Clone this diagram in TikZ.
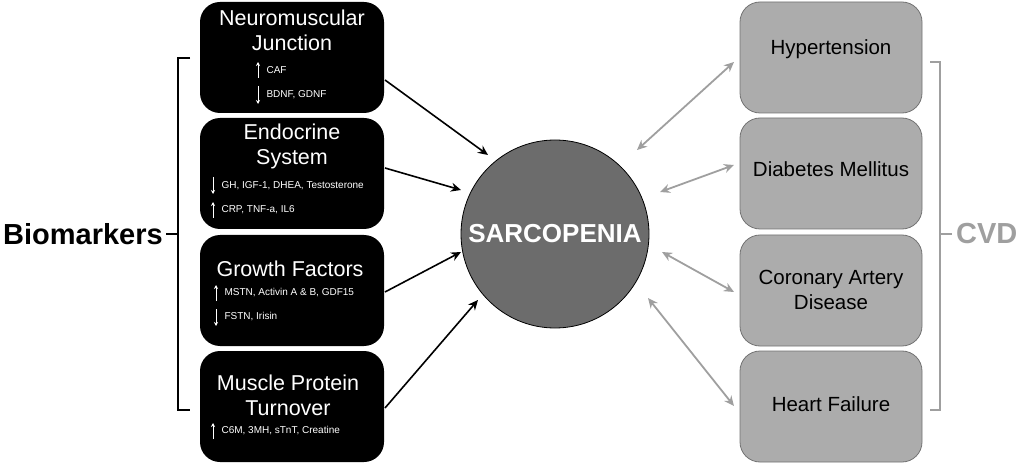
\documentclass[tikz,border=0pt]{standalone}
\usepackage{fontspec}
\setmainfont{Liberation Sans}
\usetikzlibrary{arrows.meta}
\begin{document}
\begin{tikzpicture}[x=1pt,y=-1pt,
  lbox/.style={fill=black,rounded corners=20pt},
  rbox/.style={fill=gray!65,draw=gray!90!black,rounded corners=20pt,line width=0.8pt},
  ttl/.style={text=white,font=\fontsize{21.5}{25}\selectfont,align=center},
  rttl/.style={text=black,font=\fontsize{20.5}{25}\selectfont,align=center},
  sm/.style={text=white,font=\fontsize{10}{12}\selectfont,anchor=west},
  updn/.style={white,line width=1pt,-{Stealth[length=4pt,width=4pt]}},
  blk/.style={black,line width=1.6pt,-{Stealth[length=10pt,width=9pt]}},
  gry/.style={gray!75,line width=1.8pt,{Stealth[length=10pt,width=9pt]}-{Stealth[length=10pt,width=9pt]}}]
\useasboundingbox (0,0) rectangle (1020,465);
% left boxes
\foreach \i/\y in {1/2,2/118,3/235,4/351}{
  \path[lbox] (200,\y) rectangle (384,\y+111);
}
\foreach \i/\y in {1/2,2/118,3/235,4/351}{
  \path[rbox] (740,\y) rectangle (922,\y+111);
}
\node[ttl] (t1) at (292,30) {Neuromuscular\\Junction};
\draw[updn] (258,78)--(258,62); \node[sm] (s1) at (263,70) {CAF};
\draw[updn] (258,86)--(258,104); \node[sm] (s2) at (263,95) {BDNF, GDNF};
\node[ttl] (t2) at (292,146) {Endocrine\\System};
\draw[updn] (213,177)--(213,194); \node[sm] (s3) at (218,186) {GH, IGF-1, DHEA, Testosterone};
\draw[updn] (213,218)--(213,202); \node[sm] (s4) at (218,210) {CRP, TNF-a, IL6};
\node[ttl] (t3) at (290,269) {Growth Factors};
\draw[updn] (216,301)--(216,285); \node[sm] (s5) at (221,293) {MSTN, Activin A \& B, GDF15};
\draw[updn] (216,309)--(216,326); \node[sm] (s6) at (221,317) {FSTN, Irisin};
\node[ttl] (t4) at (288,395) {Muscle Protein\\Turnover};
\draw[updn] (213,439)--(213,423); \node[sm] (s7) at (218,431) {C6M, 3MH, sTnT, Creatine};
% right
\node[rttl] (h1) at (831,49) {Hypertension};
\node[rttl] (h2) at (831,169) {Diabetes Mellitus};
\node[rttl] (h3) at (831,290) {Coronary Artery\\Disease};
\node[rttl] (h4) at (831,404) {Heart Failure};
% circle
\node[circle,fill=gray!85!black,draw=black,line width=0.8pt,minimum size=188pt,text=white,font=\bfseries\fontsize{26}{30}\selectfont] (S) at (555,234) {SARCOPENIA};
% arrows
\coordinate (a1) at (385,80); \coordinate (a2) at (385,168); \coordinate (a3) at (385,292); \coordinate (a4) at (385,408);
\coordinate (b1) at (488,155); \coordinate (b2) at (461,190); \coordinate (b3) at (461,252); \coordinate (b4) at (478,300);
\foreach \i in {1,2,3,4}{\draw[blk] (a\i)--(b\i);}
\coordinate (c1) at (637,150); \coordinate (c2) at (660,192); \coordinate (c3) at (662,252); \coordinate (c4) at (648,298);
\coordinate (d1) at (734,62); \coordinate (d2) at (734,165); \coordinate (d3) at (734,292); \coordinate (d4) at (734,406);
\foreach \i in {1,2,3,4}{\draw[gry] (c\i)--(d\i);}
% brackets
\draw[black,line width=1.6pt] (190,58)--(178,58)--(178,410)--(190,410);
\draw[black,line width=1.6pt] (178,234)--(166,234);
\node[font=\bfseries\fontsize{29}{32}\selectfont,anchor=east,inner sep=1pt] (bio) at (164,234) {Biomarkers};
\draw[gray!75,line width=1.6pt] (930,62)--(940,62)--(940,410)--(930,410);
\draw[gray!75,line width=1.6pt] (940,234)--(952,234);
\node[font=\bfseries\fontsize{29}{32}\selectfont,anchor=west,text=gray!75,inner sep=1pt] (cvd) at (955,234) {CVD};
\end{tikzpicture}
\end{document}
